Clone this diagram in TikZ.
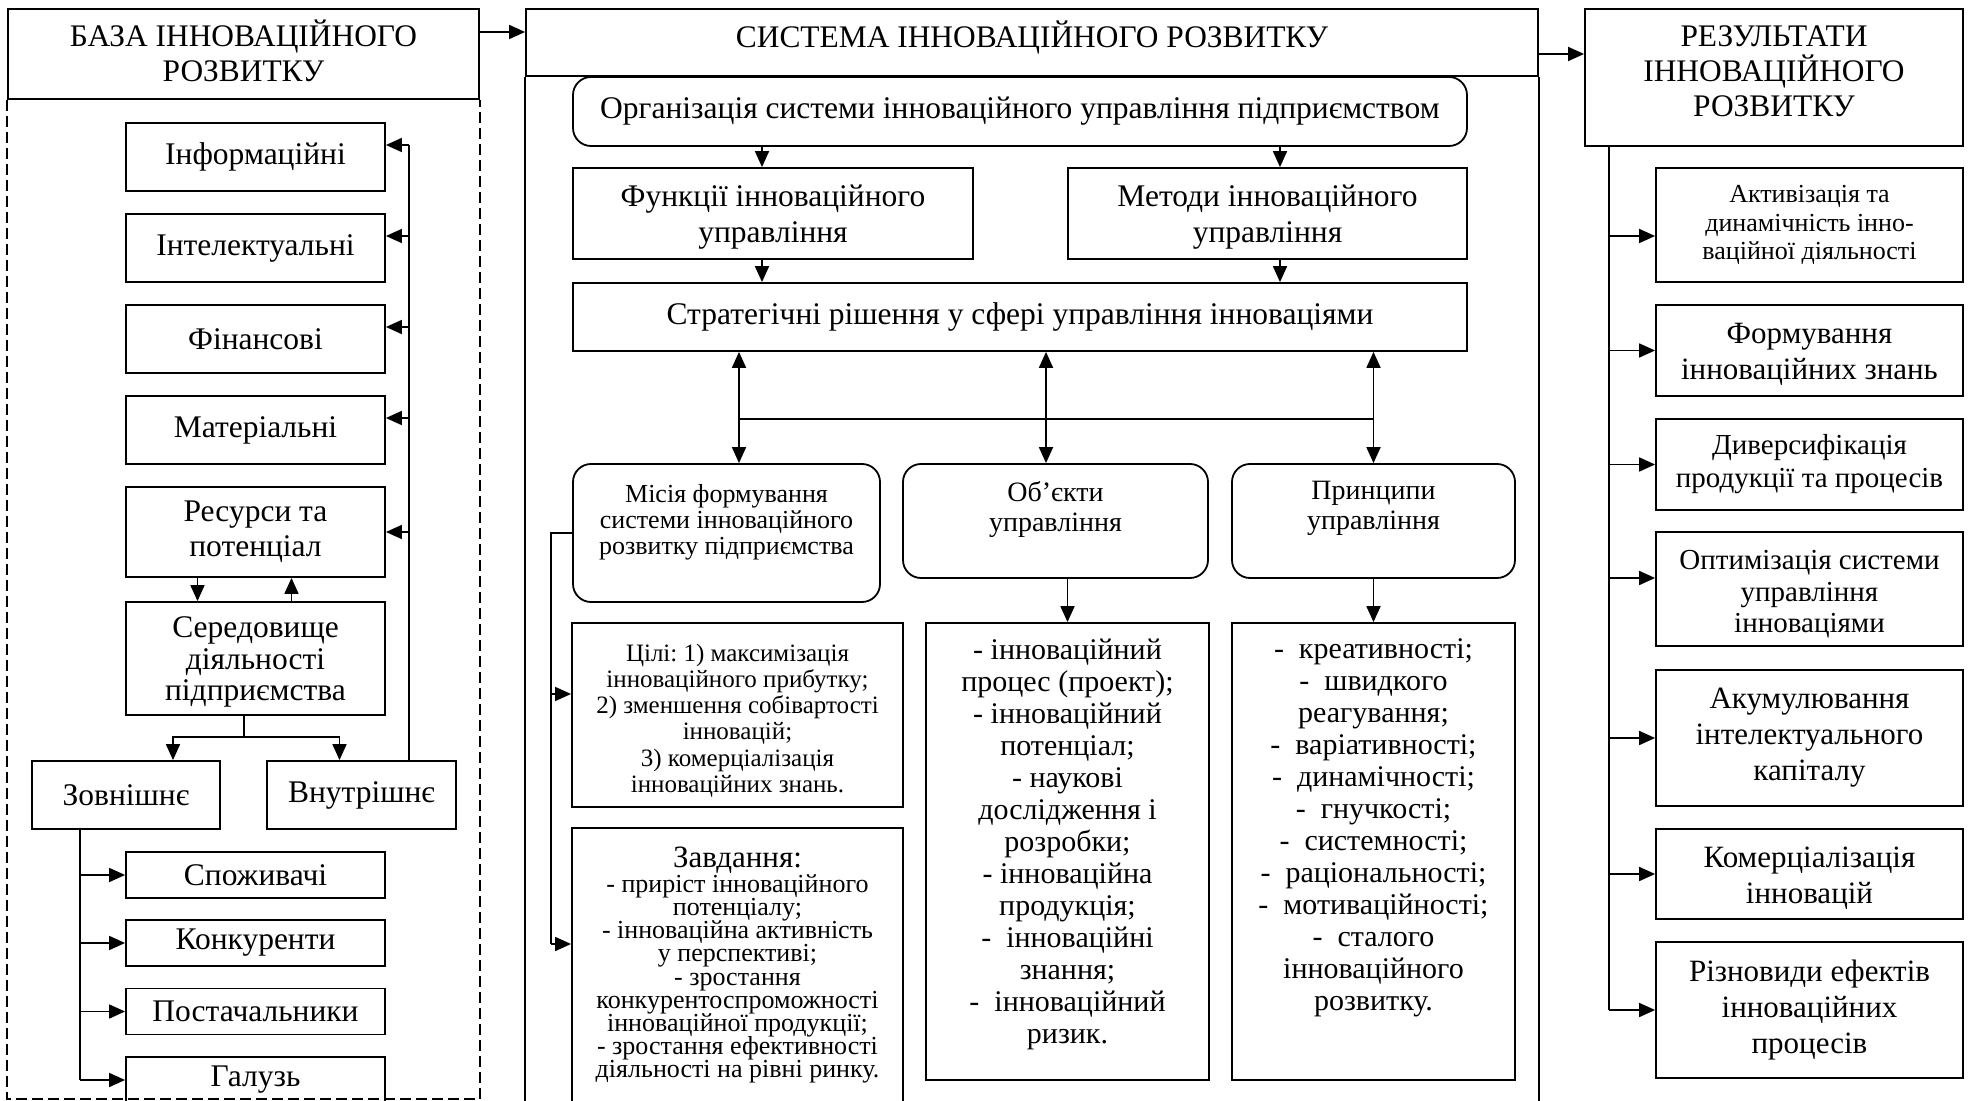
\documentclass[tikz,border=0pt]{standalone}
\usepackage{fontspec}
\setmainfont{Liberation Serif}
\usetikzlibrary{arrows.meta}
\frenchspacing

\newcommand{\fhead}{\fontsize{15.7}{17.5}\selectfont}
\newcommand{\fmain}{\fontsize{15.75}{17.5}\selectfont}
\newcommand{\flist}{\fontsize{15}{16}\selectfont}
\newcommand{\fmis}{\fontsize{13}{13}\selectfont}
\newcommand{\fobj}{\fontsize{14}{15}\selectfont}
\newcommand{\fcil}{\fontsize{12.5}{13.1}\selectfont\lineskiplimit=-5pt}
\newcommand{\fzav}{\fontsize{13}{11.6}\selectfont\lineskiplimit=-5pt}
\newcommand{\fres}{\fontsize{15.5}{18}\selectfont}
\newcommand{\fact}{\fontsize{13}{14.3}\selectfont}

\tikzset{
  box/.style={draw, line width=0.9pt, align=center, inner sep=2pt},
  rbox/.style={box, rounded corners=9pt},
  lbox/.style={box, minimum width=129.5pt, minimum height=34pt, font=\fmain},
  resbox/.style={box, minimum width=153.5pt, font=\fres},
  toptext/.style={align=center, anchor=north, inner sep=0pt},
  midtext/.style={align=center, inner sep=0pt},
  headtext/.style={midtext, font=\fhead},
  link/.style={line width=0.9pt},
  arr/.style={line width=0.9pt, -{Triangle[length=8pt,width=7pt]}},
  arrr/.style={line width=0.9pt, {Triangle[length=8pt,width=7pt]}-{Triangle[length=8pt,width=7pt]}},
}

\begin{document}
\begin{tikzpicture}[x=0.5pt,y=-0.5pt]
			\useasboundingbox (0,0) rectangle (1972,1101);
			% base of development
			\node[box, minimum width=235.5pt, minimum height=45pt, label={[headtext, yshift=1.5pt]center:{БАЗА ІННОВАЦІЙНОГО\\РОЗВИТКУ}}] (lhead) at (243.5,54) {};
			\coordinate (lbot) at (0,1099);
			\draw[link, dash pattern=on 5.5pt off 2.5pt] (lhead.south west) -- (lhead.south west |- lbot) -- (lhead.south east |- lbot) -- (lhead.south east);
			\node[lbox] (inf) at (255.5,157) {Інформаційні};
			\node[lbox] (int) at (255.5,248) {Інтелектуальні};
			\node[lbox] (fin) at (255.5,339) {Фінансові};
			\node[lbox] (mat) at (255.5,430) {Матеріальні};
			\node[lbox, minimum height=45pt] (res) at (255.5,532) {Ресурси та\\потенціал};
			\node[lbox, minimum height=56.5pt, label={[midtext, font=\fontsize{15.75}{15.7}\selectfont, yshift=-1.8pt]center:{Середовище\\діяльності\\підприємства}}] (ser) at (255.5,658.5) {};
			\node[lbox, minimum width=94pt] (zov) at (126,795) {Зовнішнє};
			\node[lbox, minimum width=94.5pt] (vnu) at (361.5,795) {Внутрішнє};
			\node[lbox, minimum height=23pt] (spo) at (255.5,875) {Споживачі};
			\node[lbox, minimum height=23pt] (kon) at (255.5,943) {Конкуренти};
			\node[lbox, minimum height=23pt] (pos) at (255.5,1011.5) {Постачальники};
			\node[lbox, minimum height=23pt] (gal) at (255.5,1080) {Галузь};
			% internal environment back to the resources
			\coordinate (lbus) at (409,0);
			\draw[link] (vnu.north -| lbus) -- ([yshift=6pt]inf.east -| lbus);
			\foreach \n in {inf,int,fin,mat}
				\draw[arr] ([yshift=6pt]\n.east -| lbus) -- ([yshift=6pt]\n.east);
			\draw[arr] (res.east -| lbus) -- (res.east);
			\draw[arr] ([xshift=-29pt]res.south) -- ([xshift=-29pt]ser.north);
			\draw[arr] ([xshift=18pt]ser.north) -- ([xshift=18pt]res.south);
			% split of the environment
			\coordinate (lsplit) at (244,737);
			\draw[link] (ser.south -| lsplit) -- (lsplit);
			\draw[arr] (lsplit) -| ([xshift=23.5pt]zov.north);
			\draw[arr] (lsplit) -| ([xshift=-11pt]vnu.north);
			\coordinate (zbus) at (80,0);
			\draw[link] (zov.south -| zbus) -- (gal.west -| zbus);
			\foreach \n in {spo,kon,pos,gal}
				\draw[arr] (\n.west -| zbus) -- (\n.west);

			% system of development
			\node[box, minimum width=506pt, minimum height=33.5pt, label={[headtext, yshift=2.5pt]center:{СИСТЕМА ІННОВАЦІЙНОГО РОЗВИТКУ}}] (mhead) at (1032,42.5) {};
			\coordinate (mbot) at (0,1130);
			\draw[link] (mhead.south west) -- (mhead.south west |- mbot);
			\draw[link] (mhead.south east) -- (mhead.south east |- mbot);
			\draw[arr] ([yshift=11pt]lhead.east) -- ([yshift=11pt]lhead.east -| mhead.west);
			\node[rbox, minimum width=447pt, minimum height=34.5pt, font=\fmain] (org) at (1020,111.5) {Організація системи інноваційного управління підприємством};
			\node[box, minimum width=200pt, minimum height=45.5pt, label={[midtext, font=\fontsize{15.75}{18}\selectfont, yshift=-1.8pt]center:{Функції інноваційного\\управління}}] (fun) at (773,213.5) {};
			\node[box, minimum width=199.5pt, minimum height=45.5pt, label={[midtext, font=\fontsize{15.75}{18}\selectfont, yshift=-1.8pt]center:{Методи інноваційного\\управління}}] (met) at (1267.5,213.5) {};
			\node[box, minimum width=447pt, minimum height=34pt, font=\fmain] (str) at (1020,317) {Стратегічні рішення у сфері управління інноваціями};
			\draw[arr] ([xshift=-5.5pt]fun.north |- org.south) -- ([xshift=-5.5pt]fun.north);
			\draw[arr] ([xshift=6.25pt]met.north |- org.south) -- ([xshift=6.25pt]met.north);
			\draw[arr] ([xshift=-5.5pt]fun.south) -- ([xshift=-5.5pt]fun.south |- str.north);
			\draw[arr] ([xshift=6.25pt]met.south) -- ([xshift=6.25pt]met.south |- str.north);
			% mission, objects, principles
			\node[rbox, minimum width=153.5pt, minimum height=69pt, label={[toptext, font=\fmis, yshift=-10.5pt]north:{Місія формування\\системи інноваційного\\розвитку підприємства}}] (mis) at (726.5,533) {};
			\node[rbox, minimum width=152.5pt, minimum height=57pt, label={[toptext, font=\fobj, yshift=-9pt]north:{Об’єкти\\управління}}] (obj) at (1055.5,521) {};
			\node[rbox, minimum width=141.5pt, minimum height=57pt, label={[toptext, font=\fobj, yshift=-9pt]north:{Принципи\\управління}}] (pri) at (1373.5,521) {};
			\coordinate (hbar) at (0,419);
			\draw[arrr] ([xshift=6.25pt]mis.north |- str.south) -- ([xshift=6.25pt]mis.north);
			\draw[arrr] ([xshift=-4.75pt]obj.north |- str.south) -- ([xshift=-4.75pt]obj.north);
			\draw[arrr] (pri.north |- str.south) -- (pri.north);
			\draw[link] ([xshift=6.25pt]mis.north |- hbar) -- (pri.north |- hbar);
			% goals and tasks
			\node[box, minimum width=165.5pt, minimum height=92pt, label={[midtext, font=\fcil, yshift=-2.8pt]center:{Цілі: 1) максимізація\\інноваційного прибутку;\\2) зменшення собівартості\\інновацій;\\3) комерціалізація\\інноваційних знань.}}] (cil) at (737.5,715) {};
			\node[box, minimum width=165.5pt, minimum height=146pt, label={[toptext, font=\fzav, yshift=-9.5pt]north:{{\fontsize{15.5}{15.5}\selectfont Завдання:}\\[1pt]- приріст інноваційного\\потенціалу;\\- інноваційна активність\\у перспективі;\\- зростання\\конкурентоспроможності\\інноваційної продукції;\\- зростання ефективності\\діяльності на рівні ринку.}}] (zav) at (737.5,974) {};
			\coordinate (mbus) at (551,0);
			\draw[link] (mis.west) -- (mis.west -| mbus) -- ([yshift=15pt]zav.west -| mbus);
			\draw[arr] ([yshift=10.5pt]cil.west -| mbus) -- ([yshift=10.5pt]cil.west);
			\draw[arr] ([yshift=15pt]zav.west -| mbus) -- ([yshift=15pt]zav.west);
			% lists
			\node[box, minimum width=141.5pt, minimum height=228.5pt, label={[toptext, font=\flist, yshift=-8.3pt]north:{- інноваційний\\процес (проект);\\- інноваційний\\потенціал;\\- наукові\\дослідження і\\розробки;\\- інноваційна\\продукція;\\-~ інноваційні\\знання;\\-~ інноваційний\\ризик.}}] (olist) at (1067.5,851.5) {};
			\node[box, minimum width=141.5pt, minimum height=228.5pt, label={[toptext, font=\flist, yshift=-8.3pt]north:{-~ креативності;\\-~ швидкого\\реагування;\\-~ варіативності;\\-~ динамічності;\\-~ гнучкості;\\-~ системності;\\-~ раціональності;\\-~ мотиваційності;\\-~ сталого\\інноваційного\\розвитку.}}] (plist) at (1373.5,851.5) {};
			\draw[arr] (olist.north |- obj.south) -- (olist.north);
			\draw[arr] (pri.south) -- (plist.north);

			% results of development
			\node[box, minimum width=189pt, minimum height=68.5pt, label={[headtext, yshift=3pt]center:{РЕЗУЛЬТАТИ\\ІННОВАЦІЙНОГО\\РОЗВИТКУ}}] (rhead) at (1774,77.5) {};
			\draw[arr] ([yshift=-5.75pt]mhead.east) -- ([yshift=-5.75pt]mhead.east -| rhead.west);
			\node[resbox, minimum height=57pt, font=\fact] (act) at (1809.5,225) {Активізація та\\динамічність інно-\\ваційної діяльності};
			\node[resbox, minimum height=45.5pt, label={[midtext, font=\fres, yshift=-2pt]center:{Формування\\інноваційних знань}}] (frm) at (1809.5,350.5) {};
			\node[resbox, minimum height=45.5pt, font=\fontsize{14.5}{16.5}\selectfont] (div) at (1809.5,464.5) {Диверсифікація\\продукції та процесів};
			\node[resbox, minimum height=57pt, label={[midtext, font=\fontsize{14.5}{15.8}\selectfont, yshift=-2.8pt]center:{Оптимізація системи\\управління\\інноваціями}}] (opt) at (1809.5,589) {};
			\node[resbox, minimum height=68pt] (aku) at (1809.5,738) {Акумулювання\\інтелектуального\\капіталу};
			\node[resbox, minimum height=45pt, label={[midtext, font=\fres, yshift=-2pt]center:{Комерціалізація\\інновацій}}] (kom) at (1809.5,874) {};
			\node[resbox, minimum height=68pt] (riz) at (1809.5,1010) {Різновиди ефектів\\інноваційних\\процесів};
			\coordinate (rbus) at (1609,0);
			\draw[link] (rhead.south -| rbus) -- (riz.west -| rbus);
			\draw[arr] ([yshift=-5.5pt]act.west -| rbus) -- ([yshift=-5.5pt]act.west);
			\draw[arr] ([yshift=5.5pt]opt.west -| rbus) -- ([yshift=5.5pt]opt.west);
			\foreach \n in {frm,div,aku,kom,riz}
				\draw[arr] (\n.west -| rbus) -- (\n.west);
\end{tikzpicture}
\end{document}
